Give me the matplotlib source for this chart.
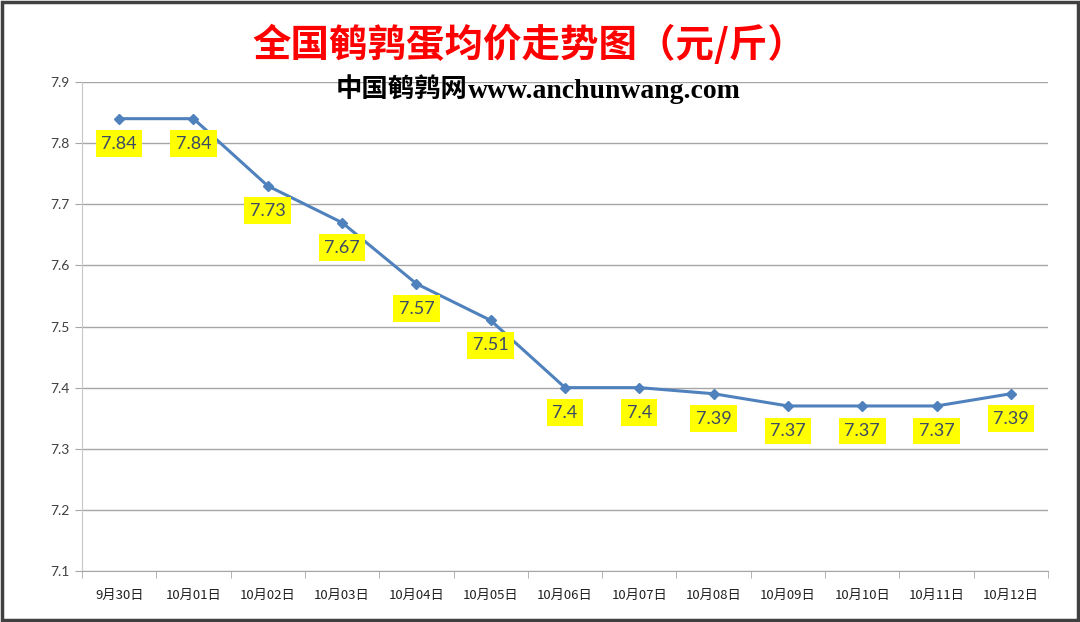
import matplotlib
matplotlib.use("Agg")
import matplotlib.pyplot as plt
from matplotlib.patches import Rectangle

categories = ["9月30日", "10月01日", "10月02日", "10月03日", "10月04日", "10月05日",
              "10月06日", "10月07日", "10月08日", "10月09日", "10月10日", "10月11日", "10月12日"]
prices = [7.84, 7.84, 7.73, 7.67, 7.57, 7.51, 7.4, 7.4, 7.39, 7.37, 7.37, 7.37, 7.39]
price_labels = ["7.84", "7.84", "7.73", "7.67", "7.57", "7.51", "7.4", "7.4", "7.39",
                "7.37", "7.37", "7.37", "7.39"]
yticks = [7.1, 7.2, 7.3, 7.4, 7.5, 7.6, 7.7, 7.8, 7.9]
title = "全国鹌鹑蛋均价走势图（元/斤）"
subtitle_cn = "中国鹌鹑网"
subtitle_url = "www.anchunwang.com"

plt.rcParams['font.family'] = ['Noto Sans CJK SC', 'DejaVu Sans']

fig = plt.figure(figsize=(10.8, 6.22), dpi=100)
fig.patch.set_facecolor("white")
ax = fig.add_axes([82/1080, 1 - 571/622, (1048 - 82)/1080, (571 - 82)/622])

x = list(range(len(categories)))
ax.plot(x, prices, color="#4F81BD", linewidth=2.2, marker="D", markersize=5.5,
        markerfacecolor="#4F81BD", markeredgecolor="#4F81BD", zorder=3)

for xi, yi, lab in zip(x, prices, price_labels):
    ax.annotate(lab, (xi, yi), xytext=(0, -25), textcoords="offset pixels",
                ha="center", va="center", fontsize=13, family=["Lato", "DejaVu Sans"],
                color="#3B4A66", zorder=4,
                bbox=dict(boxstyle="square,pad=0.3", facecolor="#FFFF00", edgecolor="none"))

ax.set_xlim(-0.5, len(categories) - 0.5)
ax.set_ylim(7.1, 7.9)
ax.set_yticks(yticks)
ax.set_yticklabels([f"{v:.1f}" for v in yticks], fontsize=10, color="#404040",
                   family=["Lato", "DejaVu Sans"])
ax.yaxis.grid(True, color="#A6A6A6", linewidth=1.0)
ax.set_axisbelow(True)

ax.set_xticks(x)
ax.set_xticklabels(categories, fontsize=9.5, color="#202020")
ax.set_xticks([i - 0.5 for i in range(len(categories) + 1)], minor=True)
ax.tick_params(axis="x", which="major", length=0, pad=13)
ax.tick_params(axis="x", which="minor", length=5, color="#A6A6A6", direction="out")
ax.tick_params(axis="y", length=5, color="#A6A6A6", direction="out", pad=4)

for s in ["top", "right"]:
    ax.spines[s].set_visible(False)
ax.spines["left"].set_color("#C8C8C8")
ax.spines["bottom"].set_color("#A6A6A6")

fig.text(529/1080, 1 - 45/622, title, ha="center", va="center", fontsize=27.7,
         fontweight="bold", color="#FF0000")
fig.text(468/1080, 1 - 98/622, subtitle_cn, ha="right", va="baseline", fontsize=19,
         fontweight="bold", color="#000000")
fig.text(468/1080, 1 - 98/622, subtitle_url, ha="left", va="baseline", fontsize=20,
         fontweight="bold", color="#000000", family=["Liberation Serif", "DejaVu Serif"])

fig.patches.append(Rectangle((0.0015, 0.0025), 0.997, 0.995, transform=fig.transFigure,
                             fill=False, edgecolor="#404040", linewidth=2.5))

fig.savefig("out.png", dpi=100, facecolor="white")
